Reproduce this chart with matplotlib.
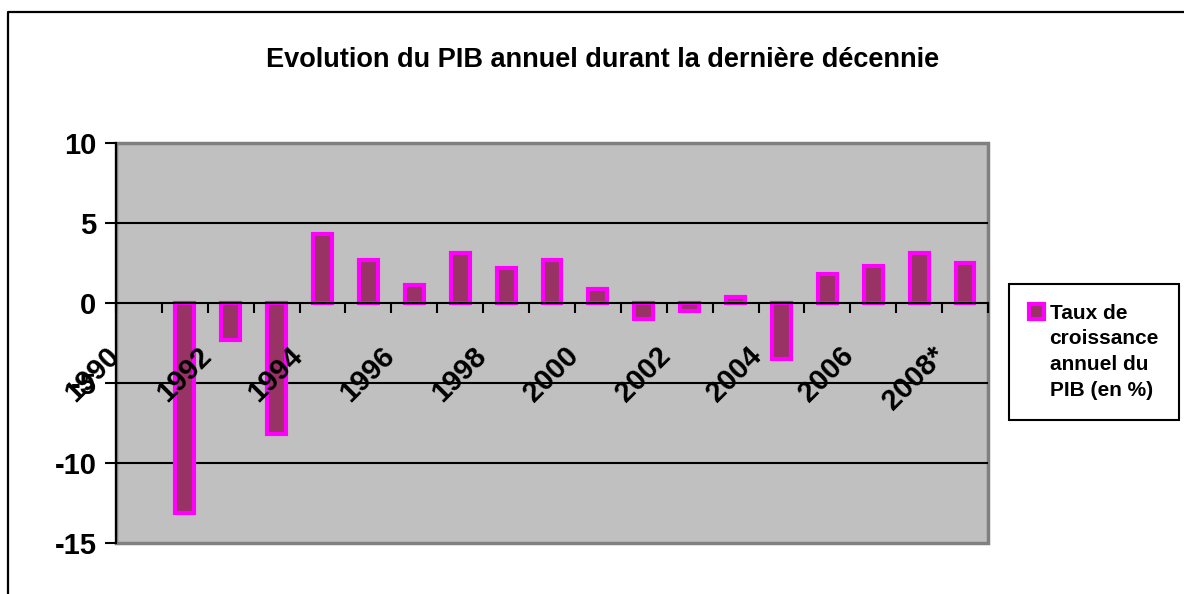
import matplotlib
matplotlib.use("Agg")
import matplotlib.pyplot as plt
import numpy as np
from matplotlib.lines import Line2D
from matplotlib.patches import Patch
from matplotlib.transforms import offset_copy

plt.rcParams["font.family"] = ["Liberation Sans", "DejaVu Sans"]
plt.rcParams["font.weight"] = "bold"

years = ["1990", "1991", "1992", "1993", "1994", "1995", "1996", "1997", "1998",
         "1999", "2000", "2001", "2002", "2003", "2004", "2005", "2006", "2007",
         "2008*"]
# taux de croissance annuel du PIB (en %), 1990 sans valeur
growth = [np.nan, -13.1, -2.3, -8.2, 4.3, 2.7, 1.1, 3.1, 2.2,
          2.7, 0.9, -1.0, -0.5, 0.4, -3.5, 1.8, 2.3, 3.1, 2.5]
shown_labels = years[::2]
y_ticks = [-15, -10, -5, 0, 5, 10]
legend_lines = ["Taux de", "croissance", "annuel du", "PIB (en %)"]

DPI = 100
fig = plt.figure(figsize=(11.84, 5.94), dpi=DPI)
ax = fig.add_axes([116 / 1184, 1 - 543 / 594, (988 - 116) / 1184, 400 / 594])

x = np.arange(len(years))
ax.bar(x, growth, width=0.41, color="#993366", edgecolor="#FF00FF",
       linewidth=3, zorder=3)

ax.set_xlim(-0.5, len(years) - 0.5)
ax.set_ylim(-15, 10)
ax.set_facecolor("#C0C0C0")
ax.patch.set_edgecolor("#808080")
ax.patch.set_linewidth(2.5)

# y axis
ax.set_yticks(y_ticks)
ax.set_yticklabels([str(v) for v in y_ticks])
ax.tick_params(axis="y", direction="out", length=8, width=1.5, pad=6,
               labelsize=21, colors="black")
ax.grid(True, axis="y", color="black", linewidth=1.5, zorder=1)
for gl, v in zip(ax.get_ygridlines(), y_ticks):
    if v in (-15, 10, 0):
        gl.set_visible(False)

# x axis crosses at 0, ticks between categories
ax.spines["bottom"].set_position(("data", 0))
ax.spines["bottom"].set_linewidth(1.5)
ax.spines["bottom"].set_zorder(4)
ax.spines["left"].set_linewidth(1.5)
ax.spines["top"].set_visible(False)
ax.spines["right"].set_visible(False)
ax.set_xticks(np.arange(len(years) + 1) - 0.5)
ax.set_xticklabels([])
ax.tick_params(axis="x", direction="out", length=7.5, width=1.5)

lab_trans = offset_copy(ax.transData, fig=fig, x=-14, y=-39, units="dots")
for i, lbl in zip(x[::2], shown_labels):
    ax.text(i, 0, lbl, transform=lab_trans, rotation=45, ha="right", va="top",
            fontsize=21, fontweight="bold", zorder=5)

fig.text(0.509, 1 - 60 / 594, "Evolution du PIB annuel durant la dernière décennie",
         ha="center", va="center", fontsize=19.5, fontweight="bold")

# legend: swatch on the first line only
handles = [Patch(facecolor="#993366", edgecolor="#FF00FF", linewidth=3)]
handles += [Patch(facecolor="none", edgecolor="none") for _ in legend_lines[1:]]
leg = fig.legend(handles, legend_lines,
                 loc="upper left", bbox_to_anchor=(1009 / 1184, 1 - 284 / 594),
                 fontsize=15, fancybox=False, edgecolor="black", framealpha=1,
                 handlelength=0.75, handleheight=0.75, handletextpad=0.25,
                 labelspacing=0.32, borderpad=0.95, borderaxespad=0)
leg.get_frame().set_linewidth(1.5)

# outer chart frame (left and top edges visible)
fx = 7.5 / 1184
fy = 1 - 12 / 594
fig.add_artist(Line2D([fx, fx, 1.0], [0.0, fy, fy], transform=fig.transFigure,
                      color="black", linewidth=1.6))

fig.savefig("out.png", dpi=DPI)
